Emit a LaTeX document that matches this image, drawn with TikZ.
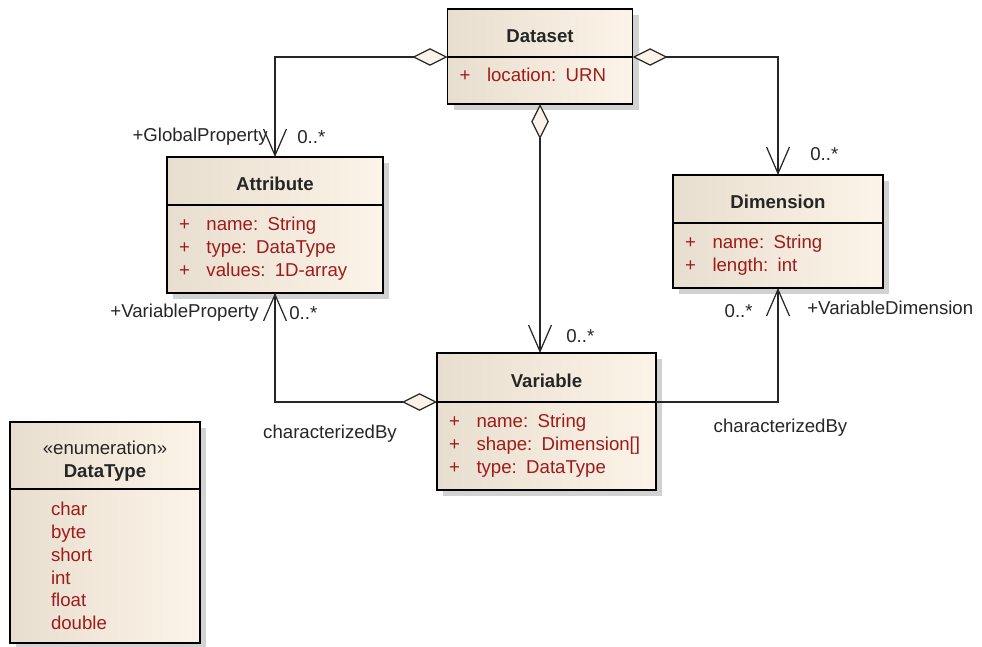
\documentclass[tikz,border=0pt]{standalone}
\usepackage{fontspec}
\setmainfont{Liberation Sans}
\usepackage{tikz}
\usetikzlibrary{positioning,arrows.meta,shadows}
\definecolor{classLeft}{HTML}{E8DECF}
\definecolor{classRight}{HTML}{FCF4E8}
\definecolor{attrText}{HTML}{9E1B1B}
\definecolor{diamondFill}{HTML}{FBF3E7}
\colorlet{labelText}{black!85}
\newcommand\umlattr[2]{\makebox[0.55cm][l]{+}#1:\enspace#2}

\begin{document}
\begin{tikzpicture}[
  font=\fontsize{10.6}{13}\selectfont,
  class head/.style={
    draw=black,
    line width=0.8pt,
    left color=classLeft,
    right color=classRight,
    outer sep=0pt,
    inner sep=0pt,
    text=labelText,
    text height=11pt,
    text depth=0pt,
    font=\fontsize{10.6}{13}\selectfont\bfseries,
    drop shadow={shadow xshift=3.5pt,shadow yshift=-3.5pt,fill=black!35},
  },
  class body/.style={
    class head,
    text=attrText,
    text height=,
    text depth=,
    align=left,
    inner xsep=0.24cm,
    font=\fontsize{10.6}{13}\selectfont,
  },
  role/.style={
    inner sep=0pt,
    text=labelText,
  },
  assoc/.style={
    draw=black!85,
    line width=0.7pt,
    arrows={Straight Barb[length=15pt,width=13pt]-},
  },
  aggr/.style={
    assoc,
    arrows={Straight Barb[length=15pt,width=13pt]-Diamond[length=20pt,width=10pt,fill=diamondFill]},
  }
]
\useasboundingbox (0,0) rectangle (19.64,-12.94);

% classes
\node[class head,minimum width=3.7cm,minimum height=0.96cm] (dsH) at (10.8,-0.66) {Dataset};
\node[class body,minimum width=3.7cm,minimum height=0.94cm,text width=3.22cm,text depth=6pt,below=0pt of dsH] (dsB)
  {\umlattr{location}{URN}};

\node[class head,minimum width=4.32cm,minimum height=0.96cm] (attH) at (5.5,-3.62) {Attribute};
\node[class body,minimum width=4.32cm,minimum height=1.76cm,text width=3.84cm,below=0pt of attH] (attB)
  {\umlattr{name}{String}\\ \umlattr{type}{DataType}\\ \umlattr{values}{1D-array}};

\node[class head,minimum width=4.2cm,minimum height=0.96cm] (dimH) at (15.56,-3.98) {Dimension};
\node[class body,minimum width=4.2cm,minimum height=1.3cm,text width=3.72cm,below=0pt of dimH] (dimB)
  {\umlattr{name}{String}\\ \umlattr{length}{int}};

\node[class head,minimum width=4.38cm,minimum height=0.98cm] (varH) at (10.93,-7.55) {Variable};
\node[class body,minimum width=4.38cm,minimum height=1.76cm,text width=3.9cm,below=0pt of varH] (varB)
  {\umlattr{name}{String}\\ \umlattr{shape}{Dimension[]}\\ \umlattr{type}{DataType}};

\node[class head,minimum width=3.8cm,minimum height=1.34cm,align=center,text height=,text depth=,
  font=\fontsize{10.6}{13}\selectfont] (dtH) at (2.1,-9.11) {\rule{0pt}{14pt}«enumeration»\\ \textbf{DataType}};
\node[class body,minimum width=3.8cm,minimum height=3.08cm,text width=2.16cm,inner xsep=0.82cm,
  below=0pt of dtH] (dtB) {char\\ byte\\ short\\ int\\ float\\ double};

% connectors
\draw[aggr] (attH.north) |- (dsH.south west);
\draw[aggr] (dimH.north) |- (dsH.south east);
\draw[aggr] (dsB.south |- varH.north) -- (dsB.south);
\draw[aggr] (attB.south) |- (varH.south west);
\draw[assoc] (dimB.south) |- (varH.south east);

% role names and multiplicities
\node[role,anchor=east] (gpRole) at ([xshift=-0.14cm,yshift=0.4cm]attH.north) {+GlobalProperty};
\node[role,anchor=west] (gpMult) at ([xshift=0.44cm,yshift=0.4cm]attH.north) {0..*};
\node[role,anchor=west] (dimMult) at ([xshift=0.64cm,yshift=0.42cm]dimH.north) {0..*};
\node[role,anchor=west] (varMult) at ([xshift=0.52cm,yshift=0.34cm]dsB.south |- varH.north) {0..*};
\node[role,anchor=east] (vpRole) at ([xshift=-0.32cm,yshift=-0.4cm]attB.south) {+VariableProperty};
\node[role,anchor=west] (vpMult) at ([xshift=0.28cm,yshift=-0.4cm]attB.south) {0..*};
\node[role,anchor=east] (vdMult) at ([xshift=-0.5cm,yshift=-0.46cm]dimB.south) {0..*};
\node[role,anchor=west] (vdRole) at ([xshift=0.58cm,yshift=-0.4cm]dimB.south) {+VariableDimension};
\node[role] (attBy) at (6.6,-8.68) {characterizedBy};
\node[role] (dimBy) at (15.61,-8.56) {characterizedBy};
\end{tikzpicture}
\end{document}
